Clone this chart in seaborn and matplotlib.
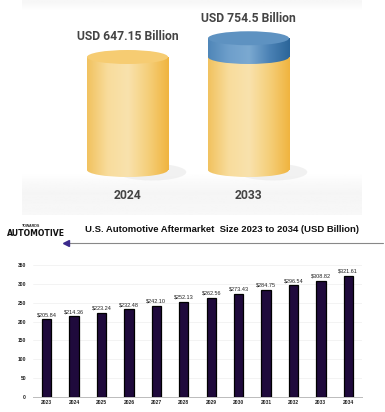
import numpy as np
import matplotlib.pyplot as plt
import seaborn as sns
from matplotlib.patches import Ellipse, Rectangle
from matplotlib.lines import Line2D
from matplotlib.colors import LinearSegmentedColormap

sns.set_theme(style="white")
plt.rcParams['font.family'] = ['Liberation Sans', 'DejaVu Sans']

# top infographic
top_years = ["2024", "2033"]
top_values = [647.15, 754.5]
top_labels = ["USD 647.15 Billion", "USD 754.5 Billion"]

# bottom bar chart
years = ["2023", "2024", "2025", "2026", "2027", "2028",
         "2029", "2030", "2031", "2032", "2033", "2034"]
values = [205.84, 214.36, 223.24, 232.48, 242.10, 252.13,
          262.56, 273.43, 284.75, 296.54, 308.82, 321.61]

W, H = 385, 412
fig = plt.figure(figsize=(W / 100, H / 100), dpi=100)
fig.patch.set_facecolor("white")

yellow = LinearSegmentedColormap.from_list(
    "yel", ["#f1c25f", "#f8dc9c", "#f9e2ad", "#f5cf7a", "#f0b43f"])
blue = LinearSegmentedColormap.from_list(
    "blu", ["#4f86b8", "#6e9fcb", "#7ba9d1", "#4b82b5", "#2b6599"])


def cylinder(ax, x, y0, y1, w, ell, cmap, top_color, z):
    grad = np.linspace(0, 1, 256).reshape(1, -1)
    rect = Rectangle((x - w / 2, y0), w, y1 - y0, facecolor="none", edgecolor="none")
    ax.add_patch(rect)
    im = ax.imshow(grad, cmap=cmap, aspect="auto", zorder=z,
                   extent=[x - w / 2, x + w / 2, y0, y1])
    im.set_clip_path(rect)
    bot = Ellipse((x, y0), w, 2 * ell, facecolor="none", edgecolor="none")
    ax.add_patch(bot)
    im2 = ax.imshow(grad, cmap=cmap, aspect="auto", zorder=z,
                    extent=[x - w / 2, x + w / 2, y0 - ell, y0 + 1])
    im2.set_clip_path(bot)
    if top_color is not None:
        ax.add_patch(Ellipse((x, y1), w, 2 * ell, facecolor=top_color,
                             edgecolor="none", zorder=z + 0.5))


# ---- top panel ----
ax_top = fig.add_axes([22 / W, 1 - 215 / H, 340 / W, 215 / H])
scale = 113 / top_values[0]           # px per unit
ymax, ymin = 170 / scale, -45 / scale
ell = 7 / scale
bw = 0.67

bg = np.interp(np.linspace(0, 1, 200), [0, 0.05, 0.8, 0.9, 1],
               [0.965, 1.0, 1.0, 0.96, 0.97]).reshape(-1, 1)
ax_top.imshow(bg, cmap="gray", vmin=0, vmax=1, aspect="auto",
              extent=[-0.872, 1.938, ymin, ymax], zorder=0)

for i, (yr, v, lab) in enumerate(zip(top_years, top_values, top_labels)):
    ax_top.add_patch(Ellipse((i + bw * 0.3, -ell * 0.3), bw * 0.85, 2.4 * ell,
                             facecolor="#e2e2e2", edgecolor="none", alpha=0.45, zorder=1))
    if i == 0:
        cylinder(ax_top, i, 0, v, bw, ell, yellow, "#f6cc72", 2)
    else:
        cylinder(ax_top, i, 0, top_values[0], bw, ell, yellow, None, 2)
        cylinder(ax_top, i, top_values[0], v, bw, ell, blue, "#5e92c1", 4)
    ax_top.annotate(lab, (i, v), xytext=(0, 14.4), textcoords="offset points",
                    ha="center", va="center", fontsize=8.7, fontweight="bold",
                    color="#444444", family=["Roboto", "DejaVu Sans"])
    ax_top.annotate(yr, (i, 0), xytext=(0, -18.7), textcoords="offset points",
                    ha="center", va="center", fontsize=8.7, fontweight="bold",
                    color="#444444", family=["Roboto", "DejaVu Sans"])

ax_top.set_xlim(-0.872, 1.938)
ax_top.set_ylim(ymin, ymax)
ax_top.axis("off")

# ---- header ----
fig.text(22 / W, 1 - 226 / H, "TOWARDS", fontsize=2.6, fontweight="bold",
         color="#222222", va="center", ha="left")
fig.text(7 / W, 1 - 233 / H, "AUTOMOTIVE", fontsize=5.6, fontweight="heavy",
         color="#111111", va="center", ha="left", family=["DejaVu Sans"])
fig.text(222 / W, 1 - 230 / H,
         "U.S. Automotive Aftermarket  Size 2023 to 2034 (USD Billion)",
         fontsize=6.8, fontweight="bold", color="#111111", ha="center", va="center")
fig.add_artist(Line2D([66 / W, 383 / W], [1 - 243 / H, 1 - 243 / H],
                      transform=fig.transFigure, color="#888888", lw=0.8))
fig.add_artist(Line2D([66 / W], [1 - 243 / H], transform=fig.transFigure,
                      marker="<", color="#3b2a8c", markersize=4.5, lw=0))

# ---- bottom chart ----
ax = fig.add_axes([33 / W, 15 / H, 329 / W, 132 / H])
sns.barplot(x=years, y=values, color="#1f0a3c", saturation=1, width=0.34,
            edgecolor="black", linewidth=0.9, ax=ax, zorder=3)
ax.bar_label(ax.containers[0], labels=[f"${v:.2f}" for v in values],
             padding=1.5, fontsize=4, color="#222222")
ax.set_ylim(0, 350)
ax.set_xlim(-0.5, len(years) - 0.5)
ax.set_yticks(range(0, 351, 50))
ax.yaxis.grid(True, color="#eeeeee", lw=0.5, zorder=0)
for s in ["top", "right", "left"]:
    ax.spines[s].set_visible(False)
ax.spines["bottom"].set_color("#bbbbbb")
ax.spines["bottom"].set_linewidth(0.7)
ax.tick_params(axis="both", length=0, labelsize=3.6, colors="#222222")
ax.tick_params(axis="y", pad=5)
ax.tick_params(axis="x", pad=2.5)
for t in ax.get_xticklabels() + ax.get_yticklabels():
    t.set_fontweight("bold")
ax.set_xlabel("")
ax.set_ylabel("")

fig.savefig("out.png", dpi=100)
